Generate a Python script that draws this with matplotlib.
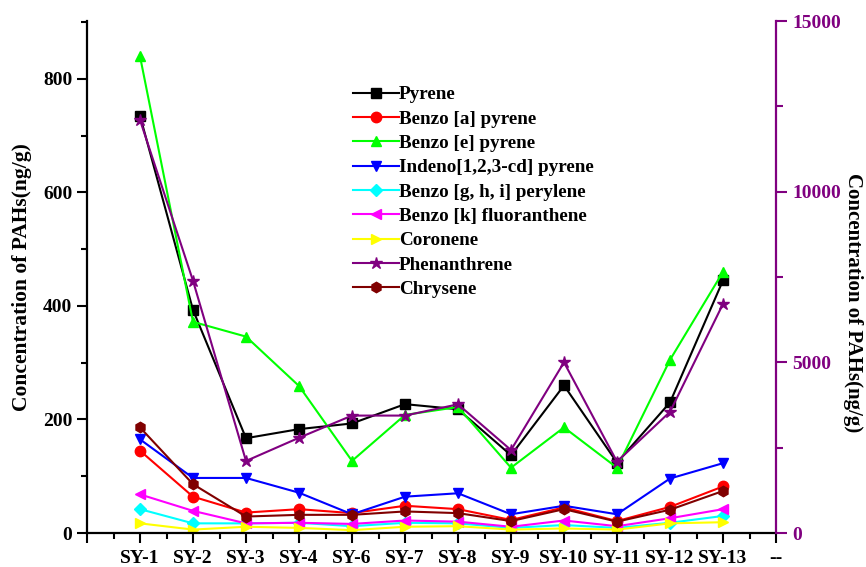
import matplotlib
matplotlib.use("Agg")
import matplotlib.pyplot as plt
from matplotlib.ticker import MultipleLocator, FixedLocator

plt.rcParams['font.family'] = ['Liberation Serif', 'DejaVu Serif']
plt.rcParams['font.weight'] = 'bold'

sites = ['SY-1', 'SY-2', 'SY-3', 'SY-4', 'SY-6', 'SY-7', 'SY-8', 'SY-9',
         'SY-10', 'SY-11', 'SY-12', 'SY-13']
pyrene = [735, 393, 167, 183, 193, 227, 218, 137, 260, 124, 230, 445]
benzo_a_pyrene = [145, 64, 36, 42, 35, 48, 42, 23, 45, 21, 46, 82]
benzo_e_pyrene = [840, 372, 346, 259, 127, 208, 222, 115, 186, 115, 305, 460]
indeno_pyrene = [165, 97, 97, 71, 33, 64, 70, 33, 48, 33, 96, 123]
benzo_ghi_perylene = [42, 17, 17, 18, 12, 18, 17, 9, 14, 9, 18, 30]
benzo_k_fluoranthene = [68, 39, 17, 18, 16, 22, 20, 11, 22, 12, 26, 42]
coronene = [17, 6, 11, 9, 5, 11, 12, 6, 8, 6, 17, 19]
phenanthrene = [12100, 7390, 2110, 2790, 3440, 3440, 3770, 2430, 5000, 2090, 3550, 6710]
chrysene = [186, 86, 29, 32, 32, 38, 35, 21, 42, 20, 41, 74]

left_series = [
    ('Pyrene', pyrene, 'black', 's'),
    ('Benzo [a] pyrene', benzo_a_pyrene, '#FF0000', 'o'),
    ('Benzo [e] pyrene', benzo_e_pyrene, '#00FF00', '^'),
    ('Indeno[1,2,3-cd] pyrene', indeno_pyrene, '#0000FF', 'v'),
    ('Benzo [g, h, i] perylene', benzo_ghi_perylene, '#00FFFF', 'D'),
    ('Benzo [k] fluoranthene', benzo_k_fluoranthene, '#FF00FF', '<'),
    ('Coronene', coronene, '#FFFF00', '>'),
]
right_series = ('Phenanthrene', phenanthrene, '#800080', '*')
last_series = ('Chrysene', chrysene, '#800000', 'h')

purple = '#800080'
x = list(range(1, len(sites) + 1))

fig = plt.figure(figsize=(8.66, 5.67), dpi=100)
ax = fig.add_axes([87/866, 1 - 533/567, (776-87)/866, (533-21)/567])
ax2 = ax.twinx()

handles = []
msizes = {'s': 6.5, 'o': 7.5, '^': 7.5, 'v': 7.5, 'D': 6.5, '<': 7.5, '>': 7.5, '*': 9, 'h': 7.5}
for name, vals, col, mk in left_series:
    h, = ax.plot(x, vals, color=col, marker=mk, ms=msizes[mk], lw=1.5, label=name)
    handles.append(h)
name, vals, col, mk = right_series
hp, = ax2.plot(x, vals, color=col, marker=mk, ms=msizes[mk], lw=1.5, label=name)
name, vals, col, mk = last_series
hc, = ax.plot(x, vals, color=col, marker=mk, ms=msizes[mk], lw=1.5, label=name)
handles += [hp, hc]

ax.set_xlim(0, 13)
ax.set_ylim(0, 902)
ax2.set_ylim(0, 15000)

ax.xaxis.set_major_locator(FixedLocator(list(range(0, 14))))
ax.set_xticklabels([''] + sites + ['--'])
ax.xaxis.set_minor_locator(MultipleLocator(0.5))
ax.yaxis.set_major_locator(MultipleLocator(200))
ax.yaxis.set_minor_locator(MultipleLocator(100))
ax2.yaxis.set_major_locator(MultipleLocator(5000))
ax2.yaxis.set_minor_locator(MultipleLocator(2500))

for a in (ax, ax2):
    a.spines['top'].set_visible(False)
ax.spines['right'].set_visible(False)
ax2.spines['left'].set_visible(False)
ax2.spines['bottom'].set_visible(False)
for s in ('left', 'bottom'):
    ax.spines[s].set_linewidth(1.6)
ax2.spines['right'].set_linewidth(1.6)
ax2.spines['right'].set_color(purple)

ax.tick_params(axis='both', which='major', direction='out', length=7, width=1.5,
               labelsize=14)
ax.tick_params(axis='x', which='major', pad=5)
ax.tick_params(axis='both', which='minor', direction='out', length=4, width=1.5)
ax2.tick_params(axis='y', which='major', direction='out', length=8, width=1.5,
                colors=purple, labelsize=14)
ax2.tick_params(axis='y', which='minor', direction='out', length=5, width=1.5,
                colors=purple)

ax.set_ylabel('Concentration of PAHs(ng/g)', fontsize=15.5, fontweight='bold',
              labelpad=8)
ax2.set_ylabel('Concentration of PAHs(ng/g)', fontsize=15, fontweight='bold',
               rotation=270, va='center')
ax2.yaxis.set_label_coords(1.112, 0.45)

leg = ax2.legend(handles=handles, loc='upper left', bbox_to_anchor=(0.375, 0.888),
                 frameon=False, fontsize=13.8, handlelength=2.4, handletextpad=0.0,
                 labelspacing=0.36, borderaxespad=0)
for t in leg.get_texts():
    t.set_fontweight('bold')

fig.savefig('out.png', dpi=100)
